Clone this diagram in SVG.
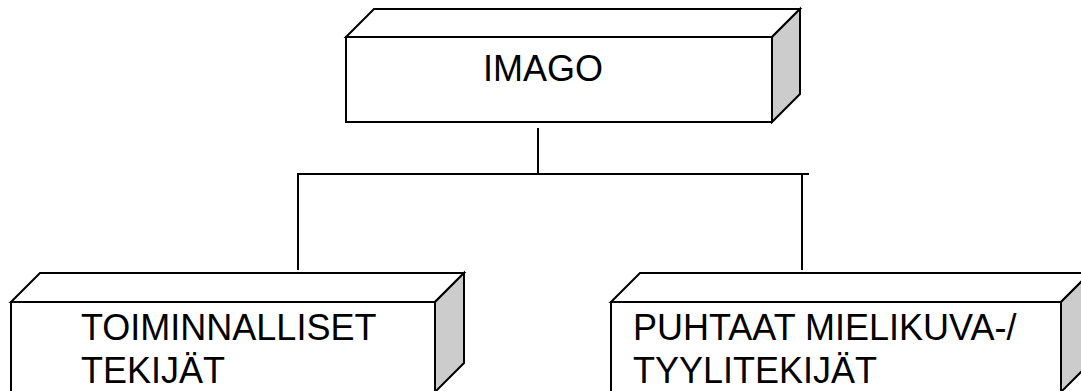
<svg xmlns="http://www.w3.org/2000/svg" width="1081" height="391" viewBox="0 0 1081 391">
  <style>
    .face { fill: #ffffff; stroke: #000000; stroke-width: 2; stroke-linejoin: miter; }
    .side { fill: #cccccc; stroke: #000000; stroke-width: 2; stroke-linejoin: miter; }
    .conn { fill: none; stroke: #000000; stroke-width: 2; }
    .label { font-family: "Liberation Sans", Arial, sans-serif; font-size: 36px; fill: #000000; }
  </style>
  <rect x="0" y="0" width="1081" height="391" fill="#ffffff"/>

  <!-- connectors -->
  <g id="connectors">
    <line class="conn" x1="538" y1="128" x2="538" y2="175"/>
    <line class="conn" x1="297" y1="174" x2="809" y2="174"/>
    <line class="conn" x1="298" y1="173" x2="298" y2="270"/>
    <line class="conn" x1="802" y1="173" x2="802" y2="270"/>
  </g>

  <!-- top block -->
  <g id="node-imago">
    <polygon class="face" points="346,37 374,9 800,9 772,37"/>
    <polygon class="side" points="772,37 800,9 800,94 772,122"/>
    <rect class="face" x="346" y="37" width="426" height="85"/>
    <text class="label" x="483" y="80.5">IMAGO</text>
  </g>

  <!-- lower left block -->
  <g id="node-toiminnalliset">
    <polygon class="face" points="11,302 40,273 464,273 435,302"/>
    <polygon class="side" points="435,302 464,273 464,363 435,392"/>
    <rect class="face" x="11" y="302" width="424" height="92"/>
    <text class="label" x="81" y="340">TOIMINNALLISET</text>
    <text class="label" x="81" y="382.5">TEKIJÄT</text>
  </g>

  <!-- lower right block -->
  <g id="node-mielikuva">
    <polygon class="face" points="611,302 640,273 1090,273 1061,302"/>
    <polygon class="side" points="1061,302 1090,273 1090,363 1061,392"/>
    <rect class="face" x="611" y="302" width="450" height="92"/>
    <text class="label" x="633" y="340">PUHTAAT MIELIKUVA-/</text>
    <text class="label" x="633" y="382.5">TYYLITEKIJÄT</text>
  </g>
</svg>
